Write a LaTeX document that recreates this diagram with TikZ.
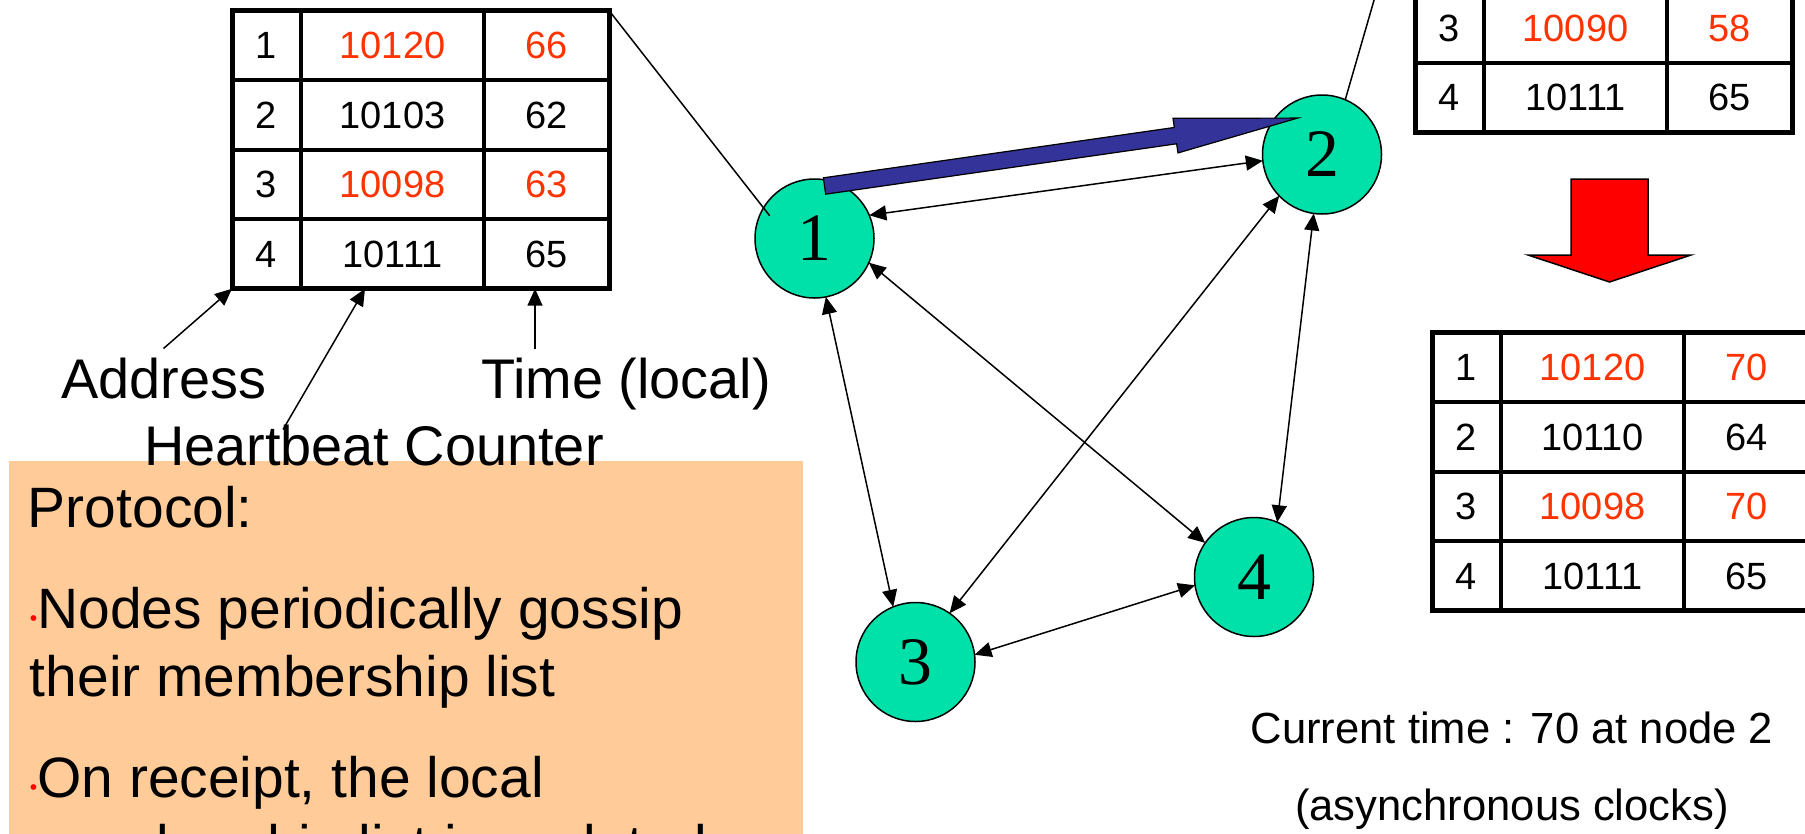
\documentclass[tikz,border=0pt]{standalone}
\usepackage{fontspec}
\setmainfont{Liberation Sans}
\newfontfamily\serifnum{Liberation Serif}
\usetikzlibrary{arrows.meta,calc,matrix,positioning}
\definecolor{nodegreen}{HTML}{00E1A9}
\definecolor{updred}{HTML}{FF3300}
\definecolor{gossipblue}{HTML}{333399}
\definecolor{peach}{HTML}{FFCC99}
\definecolor{bulred}{HTML}{FF0000}
\newcommand{\bul}{\raisebox{0.3mm}{\color{bulred}\fontsize{6}{6}\selectfont\textbullet}}

\begin{document}
\begin{tikzpicture}[x=0.1mm, y=-0.1mm, every node/.style={inner sep=0, outer sep=0},
  member/.style={circle, draw, line width=0.15mm, fill=nodegreen, minimum size=11.9mm,
    font=\serifnum\fontsize{19.3}{20}\selectfont},
  link/.style={{Triangle[length=1.7mm,width=1.5mm]}-{Triangle[length=1.7mm,width=1.5mm]}, line width=0.15mm},
  lab/.style={-{Triangle[length=1.7mm,width=1.5mm]}, line width=0.15mm},
  big/.style={font=\fontsize{15.9}{19}\selectfont, anchor=base west},
  prot/.style={font=\fontsize{16.2}{19}\selectfont, anchor=base west},
  upd/.style={text=updred},
  memtab/.style={matrix of nodes, inner sep=0, outer sep=0, column sep=0, row sep=0,
    nodes={draw, line width=0.2mm, minimum height=6.75mm, font=\fontsize{10.8}{12}\selectfont},
    column 1/.style={nodes={minimum width=6.7mm}},
    column 2/.style={nodes={minimum width=18.1mm}},
    column 3/.style={nodes={minimum width=12.3mm}}},
  rim/.style={line width=0.5mm}]
  \path[use as bounding box, fill=white] (0,0) rectangle (1805,833);
  \clip (0,0) rectangle (1805,833);

  % membership list of node 1
  \matrix[memtab, anchor=north west] (tabL) at (232,10.5) {
    1 & |[upd]| 10120 & |[upd]| 66 \\
    2 & 10103 & 62 \\
    3 & |[upd]| 10098 & |[upd]| 63 \\
    4 & 10111 & 65 \\
  };
  \draw[rim] (tabL.north west) rectangle (tabL.south east);

  % list of node 2 before and after
  \coordinate (tabTnw) at (1415,-141.5);
  \matrix[memtab, anchor=north west] (tabT) at (1415,-6.5) {
    3 & |[upd]| 10090 & |[upd]| 58 \\
    4 & 10111 & 65 \\
  };
  \draw[rim] (tabTnw) rectangle (tabT.south east);
  \matrix[memtab, anchor=north west] (tabR) at (1432,332.5) {
    1 & |[upd]| 10120 & |[upd]| 70 \\
    2 & 10110 & 64 \\
    3 & |[upd]| 10098 & |[upd]| 70 \\
    4 & 10111 & 65 \\
  };
  \draw[rim] (tabR.north west) rectangle (tabR.south east);
  \filldraw[fill=red, draw=black, line width=0.15mm] (1571,179) -- (1648,179) -- (1648,255) -- (1691,255)
    -- (1609.5,282) -- (1528,255) -- (1571,255) -- cycle;

  % the group
  \node[member] (n1) at (814.5,238.5) {1};
  \node[member] (n2) at (1322,154.5) {2};
  \node[member] (n3) at (915.5,662) {3};
  \node[member] (n4) at (1254,577) {4};
  \draw[link] (n1.23) -- (n2.186);
  \draw[link] (n1.-79) -- (n3.112);
  \draw[link] (n1.-24) -- (n4.145);
  \draw[link] (n2.-136) -- (n3.55);
  \draw[link] (n2.-98) -- (n4.67);
  \draw[link] (n3.7) -- (n4.-172);
  \draw[line width=0.15mm, shorten >=-1mm] (tabL.north east) -- (n1.149);
  \draw[line width=0.15mm] (n2.67) -- (tabTnw);

  % gossip message 1 -> 2
  \coordinate (gtail) at ($(n1)+(10,-52.5)$);
  \begin{scope}[shift={(gtail)}, rotate=8.17]
    \filldraw[fill=gossipblue, draw=black, line width=0.12mm] (0,-8.25) -- (354.6,-8.25) -- (354.6,-17.5)
      -- (478,0) -- (354.6,17.5) -- (354.6,8.25) -- (0,8.25) -- cycle;
  \end{scope}

  % protocol box
  \fill[peach] (9,461) rectangle (803,845);
  \node[prot] (prot0) at (28,527) {Protocol:};
  \node[prot] (prot1) at (30,628) {\bul Nodes periodically gossip};
  \node[prot] (prot1b) at (30,696) {their membership list};
  \node[prot] (prot2) at (30,797) {\bul On receipt, the local};
  \node[prot] (prot2b) at (30,865) {membership list is updated};

  % column labels
  \node[big] (lbAddr) at (61,398) {Address};
  \node[big] (lbTime) at (481,398) {Time (local)};
  \node[big] (lbHeart) at (144,465) {Heartbeat Counter};
  \coordinate (tstart) at ([xshift=5.4mm, yshift=0.9mm]lbTime.north west);
  \draw[lab] ([yshift=0.9mm]lbAddr.north) -- (tabL.south west);
  \draw[lab] ($(lbHeart.north west)+(139,5)$) -- ($(tabL.south west)+(133,0)$);
  \draw[lab] (tstart) -- (tstart |- tabL.south);

  \node[font=\fontsize{12.4}{14}\selectfont, anchor=base] (clk1) at (1512,743) {Current time : 70 at node 2};
  \node[font=\fontsize{12.4}{14}\selectfont, anchor=base] (clk2) at (1512,820) {(asynchronous clocks)};
\end{tikzpicture}
\end{document}
